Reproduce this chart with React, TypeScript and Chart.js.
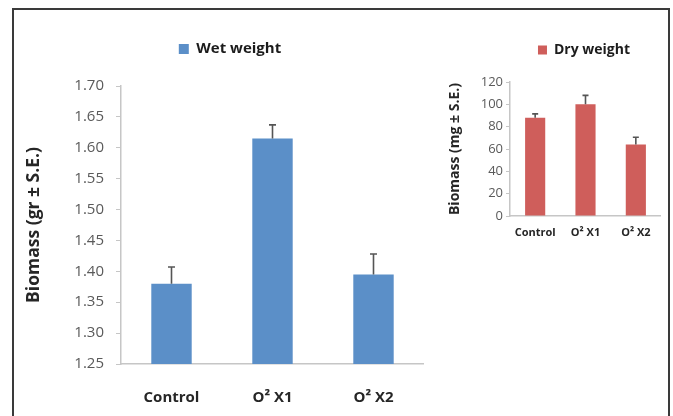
import React, { useEffect, useRef } from "react";
import { Chart, registerables } from "chart.js";

Chart.register(...registerables);
Chart.defaults.font.family = "'Open Sans', 'DejaVu Sans', sans-serif";

// ---- data ----
const categories = ["Control", "O² X1", "O² X2"];
const wetWeight = [1.38, 1.615, 1.395];
const wetSE = [0.027, 0.022, 0.033];
const dryWeight = [88, 100, 64];
const drySE = [3.5, 8, 6.5];

const WET = "#5b8fc8";
const DRY = "#cf5e5b";
const AXIS = "#c6c6c6";

const errorBarPlugin = {
  id: "errorBars",
  afterDatasetsDraw(chart: any, _args: any, opts: any) {
    const { ctx } = chart;
    chart.data.datasets.forEach((ds: any, di: number) => {
      const meta = chart.getDatasetMeta(di);
      const yScale = chart.scales[meta.yAxisID];
      const errs: number[] = ds.errorPlus || [];
      meta.data.forEach((bar: any, i: number) => {
        const e = errs[i];
        if (e == null) return;
        const yTop = yScale.getPixelForValue(ds.data[i] + e);
        const x = bar.x;
        ctx.save();
        ctx.strokeStyle = opts.color;
        ctx.lineWidth = opts.width;
        ctx.beginPath();
        ctx.moveTo(x, bar.y);
        ctx.lineTo(x, yTop);
        ctx.moveTo(x - opts.cap, yTop);
        ctx.lineTo(x + opts.cap, yTop);
        ctx.stroke();
        ctx.restore();
      });
    });
  },
};

const legendPlacePlugin = {
  id: "legendPlace",
  afterLayout(chart: any, _args: any, opts: any) {
    const lg = chart.legend;
    if (!lg || opts.cx == null) return;
    const labels = chart.options.plugins.legend.labels;
    const pad = labels.padding ?? 10;
    const fs = labels.font?.size ?? 12;
    const w = lg.width;
    const h = lg.height;
    lg.left = opts.cx - w / 2;
    lg.right = lg.left + w;
    lg.top = opts.cy - pad - fs / 2;
    lg.bottom = lg.top + h;
  },
};

function makeConfig(p: {
  label: string;
  data: number[];
  err: number[];
  color: string;
  min: number;
  max: number;
  step: number;
  decimals: number;
  title: string;
  tickFont: number;
  tickPad: number;
  tickLen: number;
  catFont: number;
  catPad: number;
  titleFont: number;
  titlePad: number;
  legendFont: number;
  legendBox: number;
  padTop: number;
  yWidth: number;
  xHeight: number;
  cx: number;
  cy: number;
  cap: number;
}): any {
  return {
    type: "bar",
    data: {
      labels: categories,
      datasets: [
        {
          label: p.label,
          data: p.data,
          errorPlus: p.err,
          backgroundColor: p.color,
          borderColor: p.color,
          borderWidth: 0,
          barPercentage: 0.4,
          categoryPercentage: 1,
        },
      ],
    },
    options: {
      responsive: false,
      animation: false,
      layout: { padding: { top: p.padTop, left: 0, right: 0, bottom: 0 } },
      plugins: {
        legend: {
          display: true,
          position: "top",
          labels: {
            boxWidth: p.legendBox,
            boxHeight: p.legendBox,
            padding: 10,
            color: "#1c1c1c",
            font: { size: p.legendFont, weight: "bold" },
          },
        },
        tooltip: { enabled: false },
        errorBars: { color: "#555555", width: 1.6, cap: p.cap },
        legendPlace: { cx: p.cx, cy: p.cy },
      },
      scales: {
        x: {
          grid: { display: false, drawTicks: false },
          border: { display: true, color: AXIS, width: 1.5 },
          ticks: {
            padding: p.catPad,
            color: "#262626",
            font: { size: p.catFont, weight: "bold" },
          },
          afterFit: (s: any) => {
            s.height = p.xHeight;
          },
        },
        y: {
          min: p.min,
          max: p.max,
          ticks: {
            stepSize: p.step,
            padding: p.tickPad,
            color: "#5a5a5a",
            font: { size: p.tickFont },
            callback: (v: any) => Number(v).toFixed(p.decimals),
          },
          grid: {
            display: true,
            drawOnChartArea: false,
            drawTicks: true,
            tickLength: p.tickLen,
            color: AXIS,
          },
          border: { display: true, color: AXIS, width: 1.5 },
          title: {
            display: true,
            text: p.title,
            color: "#262626",
            font: { size: p.titleFont, weight: "bold" },
            padding: { top: p.titlePad, bottom: 0 },
          },
          afterFit: (s: any) => {
            s.width = p.yWidth;
          },
        },
      },
    },
    plugins: [errorBarPlugin, legendPlacePlugin],
  };
}

export default function App() {
  const wetRef = useRef<HTMLCanvasElement | null>(null);
  const dryRef = useRef<HTMLCanvasElement | null>(null);

  useEffect(() => {
    const wet = new Chart(
      wetRef.current as HTMLCanvasElement,
      makeConfig({
        label: "Wet weight",
        data: wetWeight,
        err: wetSE,
        color: WET,
        min: 1.25,
        max: 1.7,
        step: 0.05,
        decimals: 2,
        title: "Biomass (gr ± S.E.)",
        tickFont: 15,
        tickPad: 12,
        tickLen: 5,
        catFont: 15,
        catPad: 25,
        titleFont: 17.5,
        titlePad: 10,
        legendFont: 15,
        legendBox: 10,
        padTop: 41,
        yWidth: 107,
        xHeight: 52,
        cx: 216,
        cy: 39,
        cap: 3.5,
      })
    );
    const dry = new Chart(
      dryRef.current as HTMLCanvasElement,
      makeConfig({
        label: "Dry weight",
        data: dryWeight,
        err: drySE,
        color: DRY,
        min: 0,
        max: 120,
        step: 20,
        decimals: 0,
        title: "Biomass (mg ± S.E.)",
        tickFont: 13,
        tickPad: 3,
        tickLen: 4,
        catFont: 11,
        catPad: 10,
        titleFont: 14,
        titlePad: 7,
        legendFont: 14,
        legendBox: 9,
        padTop: 38,
        yWidth: 70,
        xHeight: 34,
        cx: 144,
        cy: 40,
        cap: 3,
      })
    );
    return () => {
      wet.destroy();
      dry.destroy();
    };
  }, []);

  return (
    <div
      style={{
        position: "absolute",
        left: 0,
        top: 0,
        width: 673,
        height: 416,
        overflow: "hidden",
        background: "#ffffff",
      }}
    >
      <div
        style={{
          position: "absolute",
          left: 12,
          top: 8,
          width: 658,
          height: 440,
          boxSizing: "border-box",
          border: "2px solid #3a3a3a",
        }}
      />
      <canvas
        ref={wetRef}
        width={410}
        height={406}
        style={{ position: "absolute", left: 14, top: 10, width: 410, height: 406 }}
      />
      <canvas
        ref={dryRef}
        width={221}
        height={240}
        style={{ position: "absolute", left: 440, top: 10, width: 221, height: 240 }}
      />
    </div>
  );
}
